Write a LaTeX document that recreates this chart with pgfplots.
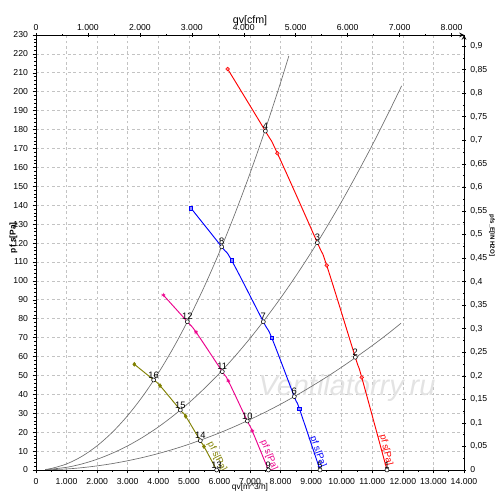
\documentclass[border=0pt]{standalone}
\usepackage{pgfplots}
\pgfplotsset{compat=1.18}
\usepackage{fontspec}
\setmainfont{Liberation Sans}
\definecolor{olivec}{RGB}{128,128,0}
\definecolor{gridc}{RGB}{195,195,195}
\definecolor{syscol}{RGB}{110,110,110}
\begin{document}
\begin{tikzpicture}
\pgfplotsset{
 base/.style={scale only axis, width=321pt, height=326.25pt, at={(0,0)}, anchor=south west,
   tick label style={font=\fontsize{6.5}{7}\selectfont},
   label style={font=\fontsize{6.5}{7}\selectfont},
   /pgf/number format/assume math mode=true,
   tick align=outside, major tick length=2.5pt, minor tick length=1.3pt,
   axis line style={black, line width=0.6pt, -},
   every tick/.style={black, line width=0.4pt},
   scaled ticks=false,
 }
}
\begin{axis}[base,
  xmin=0,xmax=14000,ymin=0,ymax=230,
  xtick={0,1000,...,14000}, ytick={0,10,...,230},
  minor x tick num=1, minor y tick num=4,
  xtick pos=left, ytick pos=left,
  grid=major, major grid style={gridc, dash pattern=on 2pt off 2pt, line width=0.5pt},
  x tick label style={/pgf/number format/.cd, fixed, precision=0, 1000 sep={.}},
  y tick label style={/pgf/number format/.cd, fixed, precision=0},
  xlabel={qv[m\textasciicircum 3/h]},
  ylabel={pf s[Pa]},
  xlabel style={at={([yshift=-13pt]axis description cs:0.5,0)}, anchor=center, font=\fontsize{6.3}{7}\selectfont},
  ylabel style={at={([xshift=-17pt]axis description cs:0,0.534)}, anchor=center, font=\fontsize{6.3}{7}\selectfont\bfseries},
]
\node[font=\fontsize{21.7}{24}\selectfont\itshape, text=gray!22] at (axis cs:10173,43.4) {Ventilatorry.ru};
% system curves
\addplot[syscol, line width=0.5pt, smooth] coordinates {
(300,0.29) (500,0.8) (1000,3.2) (1500,7.2) (2000,12.8) (2500,20) (3000,28.8) (3500,39.2) (4000,51.2) (4500,64.8) (5000,80) (5500,96.8) (6000,115.2) (6500,135.2) (7000,156.8) (7500,180) (8000,204.8) (8270,218.9)};
\addplot[syscol, line width=0.5pt, smooth] coordinates {
(300,0.13) (1000,1.42) (1500,3.2) (2000,5.68) (2500,8.9) (3000,12.78) (3500,17.4) (4000,22.72) (4500,28.8) (5000,35.5) (5500,43.0) (6000,51.12) (6500,60.0) (7000,69.58) (7500,79.9) (8000,90.88) (8500,102.6) (9000,115.0) (9500,128.2) (10000,142) (10500,156.6) (11000,171.8) (11500,187.8) (11960,203.1)};
\addplot[syscol, line width=0.5pt, smooth] coordinates {
(300,0.05) (1000,0.54) (1500,1.22) (2000,2.18) (2500,3.4) (3000,4.9) (3500,6.66) (4000,8.7) (4500,11.0) (5000,13.6) (5500,16.5) (6000,19.6) (6500,23.0) (7000,26.7) (7500,30.6) (8000,34.8) (8500,39.3) (9000,44.1) (9500,49.1) (10000,54.4) (10500,60.0) (11000,65.8) (11500,71.9) (11940,77.6)};
% fan curves
\addplot[red, line width=0.7pt, smooth, tension=0.6] coordinates {
(6270,212) (7502,179.2) (7894,167.5) (9203,120.2) (9508,108.2) (10445,59.6) (10654,49) (11480,0)};
\addplot[red, only marks, mark=*, mark size=1.4pt, mark options={fill=red!45, draw=red}] coordinates {
(6270,212) (7894,167.5) (9508,108.2) (10654,49)};
\addplot[blue, line width=0.7pt, smooth, tension=0.6] coordinates {
(5070,138.4) (6074,118) (6400,110.8) (7436,78.4) (7709,70) (8449,38.8) (8613,32.5) (9290,0)};
\addplot[blue, only marks, mark=square*, mark size=1.3pt, mark options={fill=blue!45, draw=blue}] coordinates {
(5070,138.4) (6400,110.8) (7709,70) (8613,32.5)};
\addplot[magenta, line width=0.7pt, smooth, tension=0.6] coordinates {
(4165,92.5) (4950,78.4) (5234,72.9) (6094,52) (6290,47.1) (6912,25.9) (7075,20.6) (7600,0)};
\addplot[magenta, only marks, mark=asterisk, mark size=1.6pt] coordinates {
(4165,92.5) (5234,72.9) (6290,47.1) (7075,20.6)};
\addplot[olivec, line width=0.7pt, smooth, tension=0.6] coordinates {
(3216,55.9) (3849,47.6) (4056,44.6) (4721,31.7) (4896,28.4) (5374,15.5) (5495,12.4) (5910,0)};
\addplot[olivec, only marks, mark=diamond*, mark size=1.5pt] coordinates {
(3216,55.9) (4056,44.6) (4896,28.4) (5495,12.4)};
% operating points
\addplot[only marks, mark=*, mark size=1.5pt, mark options={fill=white, draw=black, line width=0.4pt},
  nodes near coords, point meta=explicit symbolic,
  nodes near coords style={font=\fontsize{7}{8}\selectfont, anchor=south, inner sep=0pt, yshift=1.2pt, text=black}]
  table[meta=lab] {
x y lab
11480 0 1
10445 59.6 2
9203 120.2 3
7502 179.2 4
9290 0 5
8449 38.8 6
7436 78.4 7
6074 118 8
7600 0 9
6912 25.9 10
6094 52 11
4950 78.4 12
5910 0 13
5374 15.5 14
4721 31.7 15
3849 47.6 16
};
\node[red, rotate=-77, font=\fontsize{7}{8}\selectfont] at (axis cs:11449,10.6) {pf s[Pa]};
\node[blue, rotate=-70, font=\fontsize{7}{8}\selectfont] at (axis cs:9224,9.5) {pf s[Pa]};
\node[magenta, rotate=-68, font=\fontsize{7}{8}\selectfont] at (axis cs:7621,7.9) {pf s[Pa]};
\node[olivec, rotate=-63, font=\fontsize{7}{8}\selectfont] at (axis cs:5920,6.9) {pf s[Pa]};
\node[font=\fontsize{3.8}{4}\selectfont] at (rel axis cs:0.5,1.055) {Diagr. p f(qv) Rhert, Sigper3};
\end{axis}
\begin{axis}[base,
  xmin=0, xmax=8240.1, ymin=0, ymax=0.92337,
  axis x line=top, axis y line=right,
  xtick={0,1000,...,8000}, minor x tick num=1,
  ytick={0,0.05,0.1,0.15,0.2,0.25,0.3,0.35,0.4,0.45,0.5,0.55,0.6,0.65,0.7,0.75,0.8,0.85,0.9},
  minor y tick num=1,
  x tick label style={yshift=-1.5pt, /pgf/number format/.cd, fixed, precision=0, 1000 sep={.}},
  y tick label style={/pgf/number format/.cd, fixed, precision=2, use comma},
  xlabel={qv[cfm]}, ylabel={pfs\_E[IN H2O]},
  xlabel style={at={([yshift=10.5pt]axis description cs:0.5,1)}, anchor=center, font=\fontsize{8}{9}\selectfont},
  ylabel style={at={([xshift=21pt]axis description cs:1,0.539)}, anchor=center, rotate=180, font=\fontsize{4.6}{5}\selectfont\bfseries},
]
\end{axis}
\pgfresetboundingbox
\path[use as bounding box] (-27pt,-22.5pt) rectangle (348pt,352.5pt);
\end{tikzpicture}
\end{document}
